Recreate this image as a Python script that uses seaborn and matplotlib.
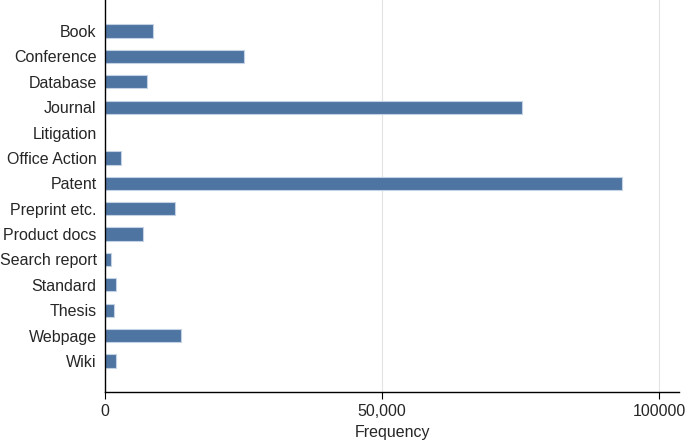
import matplotlib
matplotlib.use('Agg')
import matplotlib.pyplot as plt
import pandas as pd
import seaborn as sns

# frequency of cited document types
categories = ['Book', 'Conference', 'Database', 'Journal', 'Litigation', 'Office Action',
              'Patent', 'Preprint etc.', 'Product docs', 'Search report', 'Standard',
              'Thesis', 'Webpage', 'Wiki']
frequency = [8700, 25000, 7500, 75300, 40, 2900,
             93300, 12600, 6800, 1100, 1900,
             1700, 13700, 2000]
xticks = [0, 50000, 100000]
xtick_labels = ['0', '50,000', '100000']


def main():
    df = pd.DataFrame({'type': categories, 'freq': frequency})
    sns.set_style('white')
    plt.rcParams['font.family'] = ['Liberation Sans', 'DejaVu Sans']

    fig = plt.figure(figsize=(6.85, 4.42), dpi=100)
    ax = fig.add_axes([105 / 685, 50 / 442, 574 / 685, 392 / 442])
    sns.barplot(data=df, x='freq', y='type', orient='h', color='#4e74a2',
                saturation=1, width=0.52, edgecolor='#c3d2e4', linewidth=0.8, ax=ax)

    ax.set_xlim(0, 103600)
    ax.set_ylim(len(categories) - 1 + 1.22, -1.22)
    ax.set_xticks(xticks)
    ax.set_xticklabels(xtick_labels, fontsize=11.5)
    ax.tick_params(axis='x', direction='out', length=5, width=0.8, color='black', pad=4, bottom=True)
    ax.tick_params(axis='y', length=0, labelsize=11.5, pad=6)
    for x in xticks[1:]:
        ax.axvline(x, color='#e3e3e3', lw=0.8, zorder=0)

    sns.despine(ax=ax, top=True, right=True)
    ax.spines['left'].set_color('black')
    ax.spines['bottom'].set_color('black')
    ax.spines['left'].set_linewidth(1.0)
    ax.spines['bottom'].set_linewidth(1.0)

    ax.set_xlabel('Frequency', fontsize=11.5, labelpad=4)
    ax.set_ylabel('')
    fig.savefig('out.png', dpi=100)


main()
